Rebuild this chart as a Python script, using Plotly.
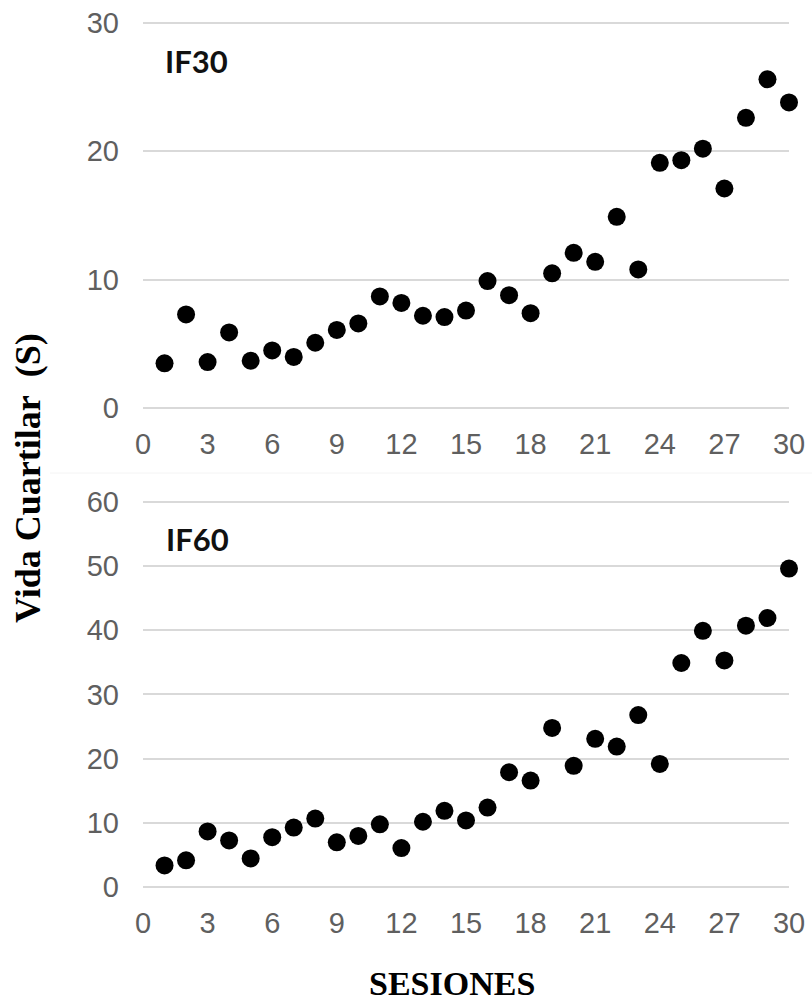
import plotly.graph_objects as go

# Sessions 1..30 and quartile life (s) for each condition
sesiones = list(range(1, 31))
if30 = [3.5, 7.3, 3.6, 5.9, 3.7, 4.5, 4.0, 5.1, 6.1, 6.6,
        8.7, 8.2, 7.2, 7.1, 7.6, 9.9, 8.8, 7.4, 10.5, 12.1,
        11.4, 14.9, 10.8, 19.1, 19.3, 20.2, 17.1, 22.6, 25.6, 23.8]
if60 = [3.4, 4.2, 8.7, 7.3, 4.5, 7.8, 9.3, 10.7, 7.0, 8.0,
        9.8, 6.1, 10.2, 11.9, 10.4, 12.4, 17.9, 16.6, 24.8, 18.9,
        23.1, 21.9, 26.8, 19.2, 34.9, 39.9, 35.3, 40.7, 41.9, 49.6]
x_ticks = list(range(0, 31, 3))
top_ticks = [0, 10, 20, 30]
bottom_ticks = [0, 10, 20, 30, 40, 50, 60]
panel_labels = ["IF30", "IF60"]
y_title = "Vida Cuartilar\u00a0\u00a0(S)"
x_title = "SESIONES"

W, H = 812, 1004


def py(px):
    """Convert a pixel row (from the top) to paper y."""
    return 1 - px / H


def px_(x):
    return x / W


# Vertical placement of each panel: pixel row of value 0 and pixels per unit
top_zero, top_scale = 408.3, 12.853
bot_zero, bot_scale = 887.3, 6.427
top_range = [-0.4, 30.4]
bot_range = [-0.8, 60.8]

top_dom = [py(top_zero - top_range[0] * top_scale), py(top_zero - top_range[1] * top_scale)]
bot_dom = [py(bot_zero - bot_range[0] * bot_scale), py(bot_zero - bot_range[1] * bot_scale)]
x_dom = [px_(143), px_(789)]

tick_font = dict(family="Liberation Sans, Arial, sans-serif", size=29, color="#5f5f5f")
grid_col = "#d9d9d9"

fig = go.Figure()
marker = dict(size=18, color="#000000", line=dict(width=0))
fig.add_trace(go.Scatter(x=sesiones, y=if30, mode="markers", marker=marker,
                         cliponaxis=False, xaxis="x", yaxis="y", showlegend=False))
fig.add_trace(go.Scatter(x=sesiones, y=if60, mode="markers", marker=marker,
                         cliponaxis=False, xaxis="x2", yaxis="y2", showlegend=False))

xcommon = dict(range=[0, 30], tickmode="array", tickvals=x_ticks, showgrid=False,
               zeroline=False, showline=False, ticks="", tickfont=tick_font,
               domain=x_dom, fixedrange=True, ticklabelstandoff=11, automargin=False)
ycommon = dict(showgrid=True, gridcolor=grid_col, gridwidth=1.5, zeroline=False,
               showline=False, ticks="", tickfont=tick_font, fixedrange=True,
               ticklabelstandoff=23, automargin=False)

fig.update_layout(
    width=W, height=H, autosize=False,
    margin=dict(l=0, r=0, t=0, b=0, autoexpand=False),
    paper_bgcolor="white", plot_bgcolor="white",
    xaxis=dict(**xcommon, anchor="y"),
    yaxis=dict(**ycommon, range=top_range, tickvals=top_ticks, domain=top_dom, anchor="x"),
    xaxis2=dict(**xcommon, anchor="y2"),
    yaxis2=dict(**ycommon, range=bot_range, tickvals=bottom_ticks, domain=bot_dom, anchor="x2"),
)

label_font = dict(family="Lato, sans-serif", size=31, color="#111111", weight="bold")
fig.add_annotation(x=px_(196), y=py(61), xref="paper", yref="paper", text=panel_labels[0],
                   showarrow=False, font=label_font, xanchor="center", yanchor="middle")
fig.add_annotation(x=px_(197), y=py(539), xref="paper", yref="paper", text=panel_labels[1],
                   showarrow=False, font=label_font, xanchor="center", yanchor="middle")

title_font = dict(family="Liberation Serif, Times New Roman, serif", size=36,
                  color="#000000", weight="bold")
fig.add_annotation(x=px_(28), y=py(478), xref="paper", yref="paper", text=y_title,
                   textangle=-90, showarrow=False, font=title_font,
                   xanchor="center", yanchor="middle")
fig.add_annotation(x=px_(452), y=py(1003), xref="paper", yref="paper", text=x_title,
                   showarrow=False, font=dict(title_font, size=34),
                   xanchor="center", yanchor="bottom", borderpad=0)

# faint seam between the two panels
fig.add_shape(type="line", xref="paper", yref="paper", x0=px_(50), x1=1,
              y0=py(473), y1=py(473), line=dict(color="#f4f4f4", width=1))

fig.write_html("out.html", config={"displayModeBar": False})
